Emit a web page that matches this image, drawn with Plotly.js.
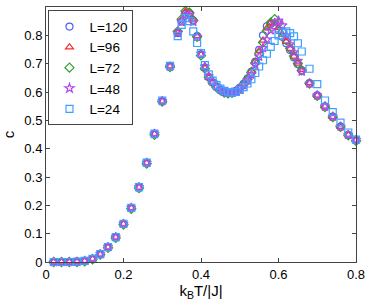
<!DOCTYPE html>
<html>
<head>
<meta charset="utf-8">
<script src="https://cdn.plot.ly/plotly-3.0.1.min.js"></script>
<style>html,body{margin:0;padding:0;background:#fff;}#chart{width:368px;height:304px;}</style>
</head>
<body>
<div id="chart"></div>
<script>
const T = [0.02,0.04,0.06,0.08,0.10,0.12,0.14,0.16,0.18,0.20,0.22,0.24,0.26,0.28,0.30,0.32,0.34,
  0.35,0.36,0.37,0.38,0.39,0.40,0.41,0.42,0.43,0.44,0.45,0.46,0.47,0.48,0.49,0.50,
  0.51,0.52,0.53,0.54,0.55,0.56,0.57,0.58,0.59,0.60,0.61,0.62,0.63,0.64,0.65,0.66,
  0.68,0.70,0.72,0.74,0.76,0.78,0.80];

const c_L120 = [0,0,0,0.001,0.004,0.011,0.028,0.053,0.088,0.135,0.191,0.264,0.350,0.452,0.568,0.690,0.808,
  0.848,0.876,0.878,0.852,0.797,0.733,0.686,0.653,0.634,0.619,0.608,0.600,0.596,0.598,0.604,0.615,
  0.629,0.647,0.671,0.706,0.749,0.800,0.832,0.840,0.834,0.818,0.795,0.772,0.748,0.722,0.698,0.676,
  0.631,0.588,0.549,0.513,0.478,0.449,0.430];

const c_L96 = [0,0,0,0.001,0.003,0.010,0.027,0.052,0.087,0.134,0.190,0.263,0.349,0.451,0.567,0.691,0.812,
  0.855,0.884,0.882,0.856,0.798,0.731,0.683,0.651,0.633,0.618,0.607,0.599,0.595,0.597,0.603,0.614,
  0.628,0.648,0.674,0.708,0.745,0.782,0.825,0.845,0.842,0.826,0.803,0.778,0.753,0.726,0.701,0.678,
  0.632,0.588,0.549,0.512,0.478,0.448,0.429];

const c_L72 = [0,0,0,0,0.002,0.009,0.026,0.050,0.085,0.132,0.188,0.261,0.347,0.449,0.566,0.688,0.814,
  0.857,0.886,0.880,0.853,0.795,0.729,0.683,0.652,0.633,0.617,0.606,0.598,0.595,0.597,0.603,0.613,
  0.627,0.646,0.670,0.702,0.735,0.775,0.815,0.845,0.857,0.842,0.812,0.782,0.754,0.727,0.701,0.676,
  0.630,0.586,0.547,0.511,0.477,0.447,0.428];

const c_L48 = [0,0,0,0.001,0.004,0.011,0.028,0.053,0.088,0.135,0.191,0.264,0.350,0.452,0.568,0.690,0.808,
  0.848,0.872,0.872,0.848,0.795,0.735,0.690,0.656,0.636,0.620,0.609,0.601,0.597,0.598,0.602,0.611,
  0.624,0.640,0.662,0.695,0.725,0.755,0.785,0.818,0.843,0.852,0.835,0.800,0.768,0.740,0.710,0.672,
  0.630,0.588,0.549,0.513,0.478,0.449,0.431];

const c_L24 = [0,0,0,0.001,0.004,0.011,0.028,0.053,0.088,0.135,0.191,0.264,0.351,0.453,0.570,0.692,0.797,
  0.837,0.861,0.850,0.814,0.773,0.737,0.695,0.662,0.640,0.624,0.612,0.604,0.599,0.598,0.600,0.607,
  0.617,0.630,0.645,0.667,0.690,0.712,0.735,0.759,0.780,0.800,0.810,0.814,0.808,0.796,0.772,0.743,
  0.682,0.628,0.570,0.529,0.492,0.457,0.432];

const seriesNames = ['L=120','L=96','L=72','L=48','L=24'];
const seriesData = [c_L120, c_L96, c_L72, c_L48, c_L24];
const symbols = ['circle-open','triangle-up-open','diamond-open','star-open','square-open'];
const colors = ['#4f5ff5','#ff2a2a','#2ca02c','#b347f0','#3fa0ff'];

const traces = seriesNames.map((n, i) => ({
  x: T, y: seriesData[i], name: n, type: 'scatter', mode: 'markers',
  cliponaxis: false,
  marker: {symbol: symbols[i], size: 7, color: colors[i], line: {width: 1.2, color: colors[i]}}
}));

const axisCommon = {
  showgrid: false, zeroline: false, showline: true, mirror: 'ticks',
  linecolor: '#444', linewidth: 1, ticks: 'inside', ticklen: 4, tickcolor: '#444',
  tickfont: {family: 'Liberation Sans, Arial, sans-serif', size: 13, color: '#000'}
};

const layout = {
  width: 368, height: 304,
  margin: {l: 46, r: 12, t: 7, b: 42},
  paper_bgcolor: '#fff', plot_bgcolor: '#fff',
  font: {family: 'Liberation Sans, Arial, sans-serif', size: 13, color: '#000'},
  showlegend: true,
  xaxis: Object.assign({}, axisCommon, {
    range: [0, 0.8], tickvals: [0,0.2,0.4,0.6,0.8], ticktext: ['0','0.2','0.4','0.6','0.8'],
    title: {text: 'k<sub>B</sub>T/|J|', font: {size: 15}, standoff: 0}
  }),
  yaxis: Object.assign({}, axisCommon, {
    range: [0, 0.9], tickvals: [0,0.1,0.2,0.3,0.4,0.5,0.6,0.7,0.8],
    ticktext: ['0','0.1','0.2','0.3','0.4','0.5','0.6','0.7','0.8'],
    title: {text: 'c', font: {size: 15}, standoff: 8}
  }),
  legend: {
    x: 0.008, y: 0.987, xanchor: 'left', yanchor: 'top',
    bgcolor: '#fff', bordercolor: '#444', borderwidth: 1,
    font: {size: 13.5}, itemwidth: 30, tracegroupgap: 0
  }
};

Plotly.newPlot('chart', traces, layout, {displayModeBar: false, staticPlot: true});
</script>
</body>
</html>
